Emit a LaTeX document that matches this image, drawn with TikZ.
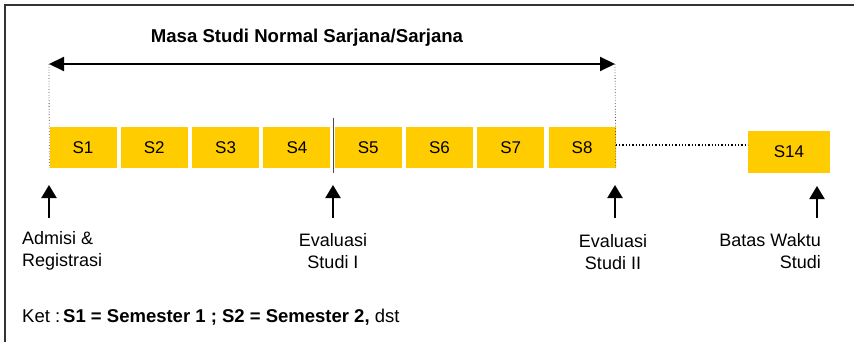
\documentclass[tikz,border=0pt]{standalone}
\usepackage{fontspec}
\setmainfont{Liberation Sans}
\usetikzlibrary{arrows.meta}
\definecolor{semyellow}{HTML}{FFCC00}
\definecolor{framegray}{HTML}{333333}
\tikzset{
  sembox/.style={fill=semyellow, draw=none, minimum width=67pt, minimum height=41pt, inner sep=0pt, font=\fontsize{17}{19}\selectfont, text depth=0pt},
  uparrow/.style={line width=2pt, -{Triangle[length=13pt,width=15pt]}},
  spanarrow/.style={line width=2pt, {Triangle[length=15pt,width=14pt]}-{Triangle[length=15pt,width=14pt]}},
  guide/.style={draw=black!70, dotted, line width=0.8pt},
  lbl/.style={font=\fontsize{18}{22}\selectfont, inner sep=0pt}
}
\begin{document}
\begin{tikzpicture}[x=1pt,y=-1pt]
\useasboundingbox (0,0) rectangle (854,342);
\draw[framegray, line width=1.5pt] (5,342) -- (5,5) -- (854,5);
% title
\node[font=\bfseries\fontsize{18.6}{21}\selectfont, inner sep=0pt] (title) at (307,38) {Masa Studi Normal Sarjana/Sarjana};
% boxes
\foreach \i in {1,...,8} {
  \node[sembox] (s\i) at ({83+71.3*(\i-1)},147.5) {S\i};
}
\node[sembox, minimum width=82pt, minimum height=42pt] (s14) at (789,152) {S14};
% span arrow
\coordinate (spanL) at (49,64);
\coordinate (spanR) at (615,64);
\draw[guide] (spanL) -- (s1.south west);
\draw[guide] (spanR) -- (s8.south east);
\draw[spanarrow] (spanL) -- (spanR);
% dotted link
\draw[black, dotted, line width=1.3pt] ([yshift=2.5pt]s8.east) -- ([yshift=2.5pt]s8.east -| s14.west);
% evaluation divider
\coordinate (divT) at (333,118);
\coordinate (divB) at (333,173);
\draw[black!70, line width=1pt] (divT) -- (divB);
% up arrows
\coordinate (a1b) at (49,218); \coordinate (a1t) at (49,185);
\coordinate (a2b) at (333,218); \coordinate (a2t) at (333,185);
\coordinate (a3b) at (615,218); \coordinate (a3t) at (615,185);
\coordinate (a4b) at (817,218); \coordinate (a4t) at (817,186);
\draw[uparrow] (a1b) -- (a1t);
\draw[uparrow] (a2b) -- (a2t);
\draw[uparrow] (a3b) -- (a3t);
\draw[uparrow] (a4b) -- (a4t);
% labels
\node[lbl, anchor=west, align=left] (admisi) at (22,251) {Admisi \&\\Registrasi};
\node[lbl, align=center] (eval1) at (333,251) {Evaluasi\\Studi I};
\node[lbl, align=center] (eval2) at (613,252) {Evaluasi\\Studi II};
\node[lbl, anchor=east, align=right] (batas) at (821,251) {Batas Waktu\\Studi};
\node[lbl, anchor=west, font=\fontsize{18.5}{22}\selectfont] (ket) at (22,317) {Ket :\hspace{3pt}\textbf{S1 = Semester 1 ; S2 = Semester 2,} dst};
\end{tikzpicture}
\end{document}
